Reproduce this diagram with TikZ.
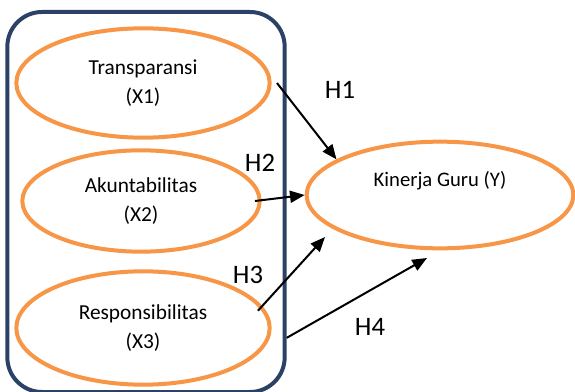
\documentclass[tikz,border=0pt]{standalone}
\usepackage{fontspec}
\setmainfont{Carlito}
\usetikzlibrary{shapes.geometric, arrows.meta, positioning}
\definecolor{varorange}{HTML}{F79646}
\definecolor{groupblue}{HTML}{2B4166}
\tikzset{
    var/.style={ellipse, draw=varorange, line width=3pt, fill=white, align=center, inner sep=0pt, font=\fontsize{16}{22}\selectfont},
    group/.style={draw=groupblue, line width=3pt, rounded corners=26pt, minimum width=208pt, minimum height=285pt},
    arrow/.style={-{Triangle[length=11pt,width=9pt]}, line width=1.5pt, black},
    hyp/.style={inner sep=0pt, font=\fontsize{20}{24}\selectfont}
}

\begin{document}
\begin{tikzpicture}[x=0.75pt, y=-0.75pt]
        \useasboundingbox (0,0) rectangle (575,392);
        \node [group] (grp) at (146,202) {};
        \node [var, minimum width=190pt, minimum height=82pt] (x1) at (143,83) {Transparansi\\(X1)};
        \node [var, minimum width=178pt, minimum height=76pt] (x2) at (141,201) {Akuntabilitas\\(X2)};
        \node [var, minimum width=190pt, minimum height=85pt] (x3) at (143,328) {Responsibilitas\\(X3)};
        \node [var, minimum width=200pt, minimum height=80pt, font=\fontsize{15.5}{18}\selectfont] (kg) at (440,195) {Kinerja Guru (Y)\\[6pt]};
        \coordinate (h3tip) at (325,237);
        \coordinate (h4tip) at (427,258);
        \node [hyp] (h1) at (340,90) {H1};
        \node [hyp] (h2) at (260,163) {H2};
        \node [hyp] (h3) at (248,275) {H3};
        \node [hyp] (h4) at (370,327) {H4};
        \draw [arrow] ([xshift=4pt]x1.east) -- (kg.161);
        \draw [arrow] ([xshift=-5pt]x2.east) -- (kg.west);
        \draw [arrow] ([xshift=-6pt]x3.8) -- (h3tip);
        \draw [arrow] (grp.-44) -- (h4tip);
    \end{tikzpicture}
\end{document}
